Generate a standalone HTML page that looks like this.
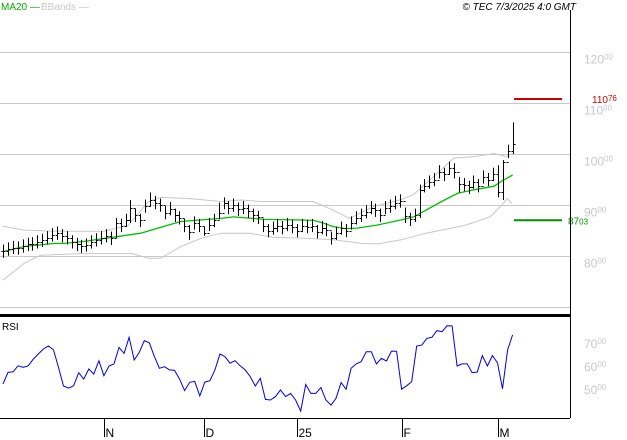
<!DOCTYPE html>
<html><head><meta charset="utf-8"><style>
body{margin:0;background:#fff;width:627px;height:440px;overflow:hidden;font-family:"Liberation Sans",sans-serif}
svg{display:block}
text{font-family:"Liberation Sans",sans-serif}
</style></head><body>
<svg id="c" width="627" height="440" viewBox="0 0 627 440" xmlns="http://www.w3.org/2000/svg">
<text x="1" y="10" font-size="10" fill="#00b000">MA20 —</text>
<text x="41" y="10" font-size="10" fill="#c8c8c8">BBands —</text>
<text x="576" y="10" font-size="10" font-style="italic" text-anchor="end" fill="#000">© TEC 7/3/2025 4:0 GMT</text>
<g id="grid"></g>
<g id="bands"></g>
<g id="bars"></g>
<g id="rsi"></g>
<line x1="570.5" y1="10" x2="570.5" y2="418" stroke="#000"/>
<line x1="0" y1="315.5" x2="570" y2="315.5" stroke="#000" stroke-width="3"/>
<line x1="0" y1="418.5" x2="570" y2="418.5" stroke="#000"/>
<text x="2" y="330" font-size="10" fill="#000">RSI</text>
<g id="xaxis"></g>
</svg>
<script>
const closes=[81.0,81.4,81.7,81.6,82.0,82.3,82.4,82.8,83.1,83.6,84.2,84.5,84.0,83.6,82.8,82.3,81.9,82.2,82.8,83.2,83.6,84.0,83.5,86.5,86.0,87.0,89.5,88.0,87.0,89.8,91.0,90.5,90.0,88.5,89.3,88.0,87.5,86.0,84.8,86.5,86.0,84.5,86.2,87.0,88.5,90.5,89.5,90.0,89.2,89.5,88.8,88.0,87.6,86.0,85.0,85.5,86.0,85.6,86.2,85.8,85.0,86.0,85.8,86.0,84.8,85.6,85.2,83.5,84.5,85.5,85.0,86.5,87.5,88.0,88.7,89.5,89.0,88.0,89.5,89.8,90.5,90.8,87.8,87.2,88.0,93.0,93.8,94.5,95.0,96.5,96.0,97.2,96.5,94.2,94.0,93.5,94.5,93.8,95.5,95.0,96.0,92.5,98.5,100.5,102.0];
const highOverrides={23:87.5,26:91.0,30:92.5,44:90.5,45:91.5,82:89.5,85:94.0,92:98.2,101:97.8,102:98.8,104:106.2};
const lowOverrides={23:83.5,26:86.5,38:83.2,41:84.0,67:82.3,82:86.5,85:87.5,93:92.5,101:91.5,102:91.0,104:100.0};
const maIdx=[0,4.3,10.5,12.5,16.6,22.3,28.1,33,36.3,40.4,44.5,47,51,53.5,60,63.3,65,67.4,69.9,72.3,76.4,81.3,83.8,86.3,89.5,92.8,96.1,100.2,101.8,104];
const maVals=[80.9,81.9,82.5,82.5,82.9,83.7,84.5,85.9,86.8,87.1,87.4,87.7,87.4,87.2,87.1,87.0,86.6,85.8,85.4,85.5,86.1,87.1,87.7,89.0,90.7,92.3,93.0,93.7,94.7,95.9];
const upIdx=[0,4.3,10.5,15.8,20.7,25.6,29.7,32.2,37.9,44.5,48.6,52.7,63.3,67.4,70.7,75.6,81.3,83.8,87.9,92,96.1,100.2,102.7,104];
const upVals=[85.9,85.1,84.9,84.9,84.9,86.1,90.7,91.5,91.3,90.7,91.0,90.7,90.7,89.0,87.4,89.7,91.1,92.1,95.6,99.2,99.5,100.1,99.5,100.1];
const loIdx=[0,4.3,7.6,15.8,26.4,29.7,32.2,36.3,40.4,44.5,50.2,55.1,61.7,67.4,73.1,76.4,81.3,86.3,89.5,94.5,99.4,101.8,102.9,103.9];
const loVals=[75.3,78.6,80.2,80.5,80.5,79.6,79.6,81.9,83.5,84.5,84.5,83.7,83.5,83.2,82.5,82.4,83.2,84.5,85.1,86.1,87.7,90.0,91.3,90.3];
const rsiVals=[52.2,57.2,57.5,60.1,59.4,60.1,63.0,65.2,67.4,68.7,67.0,59.4,51.3,50.4,51.4,57.1,54.3,58.7,56.5,62.3,55.8,60.0,60.9,68.1,65.5,72.5,62.6,65.9,71.0,70.1,64.1,59.0,59.7,58.3,58.1,54.3,49.3,52.9,53.3,47.0,53.0,53.6,58.3,65.2,64.1,61.2,62.3,60.1,58.3,55.4,51.3,54.6,45.5,45.2,46.7,49.6,46.7,48.1,45.2,40.4,52.0,48.1,48.1,50.6,45.2,43.0,45.9,52.8,49.9,59.0,60.9,61.9,66.2,66.2,60.9,63.3,62.2,66.5,66.4,49.9,51.4,53.2,68.7,69.1,72.0,72.5,75.4,74.9,77.5,77.4,60.0,60.9,60.9,57.1,57.4,64.5,60.0,64.5,61.4,50.1,67.0,73.5];
const priceTicks=[120,110,100,90,80,70];
const rsiTicks=[70,60,50];
const monthLabels=["N","D","25","F","M"];
const monthIdx=[20.6,41,60,81.5,101];
const lastPrice=110.76, supportLevel=87.03;

const NS="http://www.w3.org/2000/svg";
const xB=i=>3+i*4.9;
const yP=p=>154-(p-100)*5.11;
const yR=r=>343-(r-70)*2.3;
function mk(tag,attrs,parent,txt){const e=document.createElementNS(NS,tag);for(const k in attrs)e.setAttribute(k,attrs[k]);if(txt!=null)e.textContent=txt;document.getElementById(parent).appendChild(e);return e;}

priceTicks.forEach(t=>{
  const y=Math.round(yP(t))+0.5;
  const l=mk('line',{x1:0,x2:570,y1:y,y2:y,stroke:'#c8c8c8'},'grid');
  
  
  if(t>70){
    const tx=mk('text',{x:584,y:y+11,'font-size':12,fill:'#c8c8c8'},'grid',String(t));
    
    
    const sp=mk('tspan',{'font-size':8,dy:-4},'grid','00');tx.appendChild(sp);
  }
});
rsiTicks.forEach(t=>{
  const tx=mk('text',{x:584,y:yR(t)+5,'font-size':12,fill:'#c8c8c8'},'grid',String(t));
  
  
  const sp=mk('tspan',{'font-size':8,dy:-4},'grid','00');tx.appendChild(sp);
});
function poly(idx,vals,color,name,w){
  const pts=idx.map((ix,k)=>xB(ix).toFixed(1)+','+yP(vals[k]).toFixed(1)).join(' ');
  const p=mk('polyline',{points:pts,fill:'none',stroke:color,'stroke-width':w},'bands');
  
  
}
poly(upIdx,upVals,'#c8c8c8','bband-upper',1);
poly(loIdx,loVals,'#c8c8c8','bband-lower',1);
poly(maIdx,maVals,'#00c000','ma20-line',1.3);

closes.forEach((c,i)=>{
  const hi=highOverrides[i]!==undefined?highOverrides[i]:c+1.3;
  const lo=lowOverrides[i]!==undefined?lowOverrides[i]:c-1.3;
  const op=i>0?closes[i-1]:c;
  const x=Math.round(xB(i))+0.5;
  const g=mk('g',{stroke:'#000'},'bars');
  
  
  const a=document.createElementNS(NS,'line');a.setAttribute('x1',x);a.setAttribute('x2',x);a.setAttribute('y1',yP(hi));a.setAttribute('y2',yP(lo));g.appendChild(a);
  const b=document.createElementNS(NS,'line');b.setAttribute('x1',x-2);b.setAttribute('x2',x);b.setAttribute('y1',Math.round(yP(op))+0.5);b.setAttribute('y2',Math.round(yP(op))+0.5);g.appendChild(b);
  const d=document.createElementNS(NS,'line');d.setAttribute('x1',x);d.setAttribute('x2',x+2);d.setAttribute('y1',Math.round(yP(c))+0.5);d.setAttribute('y2',Math.round(yP(c))+0.5);g.appendChild(d);
});

const lp=mk('line',{x1:514,x2:562,y1:yP(lastPrice),y2:yP(lastPrice),stroke:'#cc0000','stroke-width':2},'bars');


const lpt=mk('text',{x:592,y:yP(lastPrice)+4,'font-size':10,fill:'#cc0000'},'bars','110');


lpt.appendChild(mk('tspan',{'font-size':8,dy:-2},'bars','76'));
const sl=mk('line',{x1:514,x2:562,y1:yP(supportLevel),y2:yP(supportLevel),stroke:'#009000','stroke-width':2},'bars');


const slt=mk('text',{x:568,y:yP(supportLevel)+4,'font-size':10,fill:'#009000'},'bars','87');


slt.appendChild(mk('tspan',{'font-size':8,dy:0},'bars','03'));

const step=104/(rsiVals.length-1);
const rpts=rsiVals.map((r,k)=>xB(k*step).toFixed(1)+','+yR(r).toFixed(1)).join(' ');
const rl=mk('polyline',{points:rpts,fill:'none',stroke:'#0000dd','stroke-width':1},'rsi');



monthLabels.forEach((m,k)=>{
  const x=Math.round(xB(monthIdx[k]))+0.5;
  const t=mk('line',{x1:x,x2:x,y1:419,y2:437,stroke:'#000'},'xaxis');
  
  
  const tx=mk('text',{x:x+1,y:437,'font-size':12,fill:'#000'},'xaxis',m);
  
  
});
</script>
</body></html>
